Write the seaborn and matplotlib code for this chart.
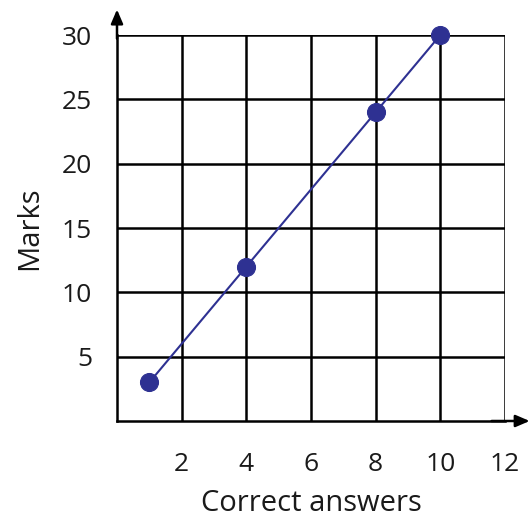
import matplotlib
matplotlib.use("Agg")
import matplotlib.pyplot as plt
import seaborn as sns
import pandas as pd

correct_answers = [1, 4, 8, 10]
marks = [3, 12, 24, 30]
x_ticks = [2, 4, 6, 8, 10, 12]
y_ticks = [5, 10, 15, 20, 25, 30]

sns.set_theme(style="white")
plt.rcParams['font.family'] = ['Open Sans', 'DejaVu Sans']

df = pd.DataFrame({"Correct answers": correct_answers, "Marks": marks})

fig = plt.figure(figsize=(5.31, 5.18), dpi=100)
ax = fig.add_axes([117/531, 97/518, (505-117)/531, (421-35)/518])

ax.set_xlim(0, 12)
ax.set_ylim(0, 30)
ax.set_xticks(x_ticks)
ax.set_yticks(y_ticks)
ax.grid(True, color="black", linewidth=1.8)
ax.set_axisbelow(True)

sns.lineplot(data=df, x="Correct answers", y="Marks", ax=ax, color="#2e3192",
             linewidth=1.5, marker="o", markersize=13, markeredgecolor="#2e3192",
             clip_on=False, zorder=5)

for s in ["top", "right"]:
    ax.spines[s].set_visible(False)
for s in ["left", "bottom"]:
    ax.spines[s].set_color("black")
    ax.spines[s].set_linewidth(1.8)

ax.tick_params(axis="both", which="both", length=11, width=1.8, color="black",
               labelsize=19, labelcolor="#1a1a1a", direction="out", pad=7)
ax.tick_params(axis="x", pad=11)

# arrows
ax.annotate("", xy=(0, 32.2), xytext=(0, 29.5), xycoords="data",
            arrowprops=dict(arrowstyle="-|>,head_length=0.7,head_width=0.3", color="black", lw=1.8),
            annotation_clip=False)
ax.annotate("", xy=(12.85, 0), xytext=(11.5, 0), xycoords="data",
            arrowprops=dict(arrowstyle="-|>,head_length=0.7,head_width=0.3", color="black", lw=1.8),
            annotation_clip=False)

ax.set_xlabel("Correct answers", fontsize=21, color="#1a1a1a", labelpad=9)
ax.set_ylabel("Marks", fontsize=21, color="#1a1a1a", labelpad=13)

fig.savefig("out.png", dpi=100)
